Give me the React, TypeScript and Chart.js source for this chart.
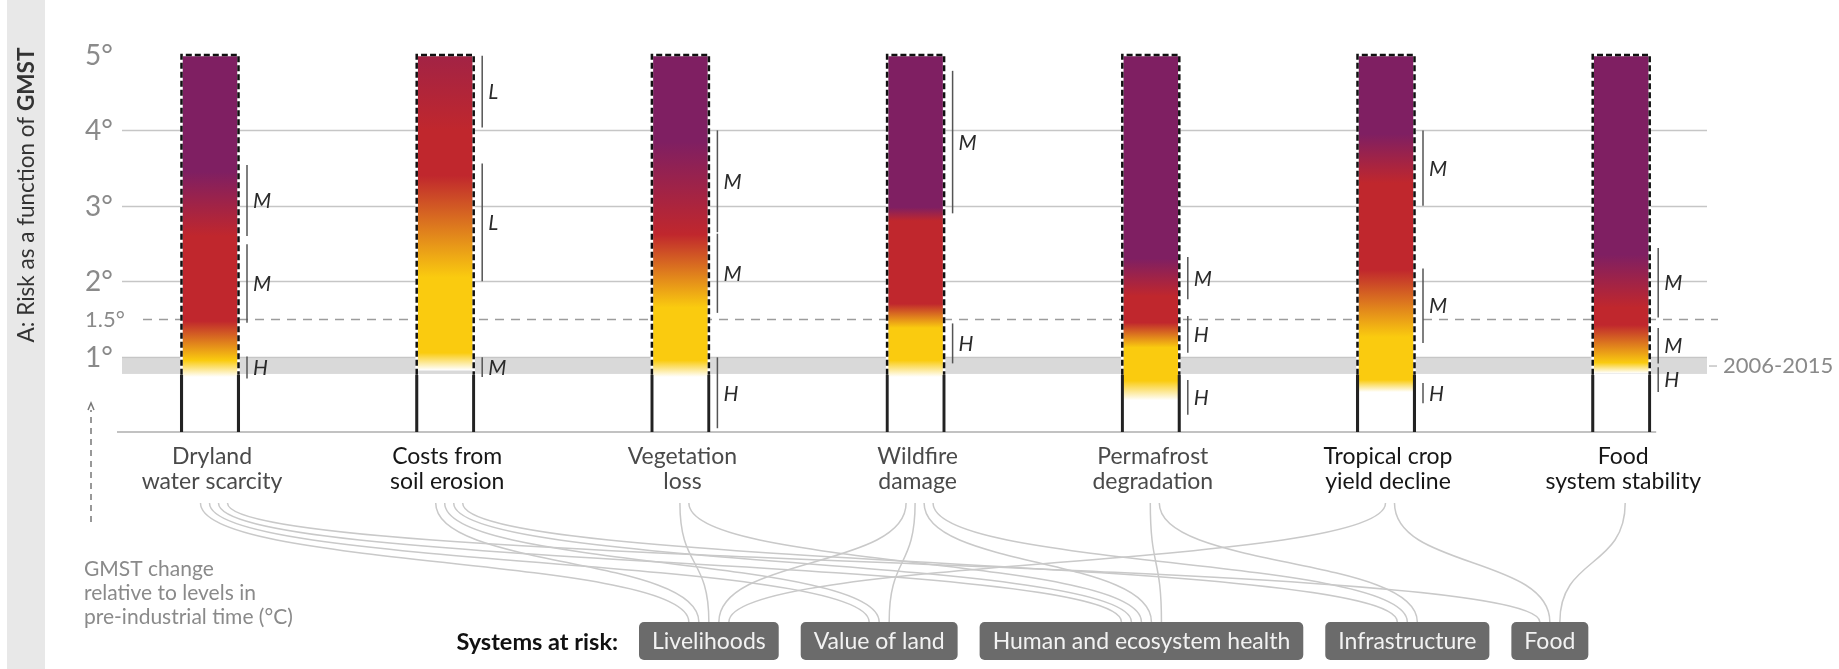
import React, { useEffect, useRef } from "react";
import { Chart, registerables } from "chart.js";

Chart.register(...registerables);

const W = 1839;
const H = 669;
const FONT = "Lato, 'Noto Sans', sans-serif";

// ---------------- data ----------------
const categories: string[][] = [
  ["Dryland", "water scarcity"],
  ["Costs from", "soil erosion"],
  ["Vegetation", "loss"],
  ["Wildfire", "damage"],
  ["Permafrost", "degradation"],
  ["Tropical crop", "yield decline"],
  ["Food", "system stability"],
];
const categoryStrong = [false, true, false, false, false, true, true];

const riskTop = [5, 5, 5, 5, 5, 5, 5];
const riskBottom = [0.73, 0.82, 0.73, 0.73, 0.42, 0.53, 0.78];
const outlineBottom = [0.76, 0.76, 0.76, 0.76, 0.76, 0.76, 0.76];

const yTickValues = [5, 4, 3, 2, 1.5, 1];
const yTickLabels = ["5°", "4°", "3°", "2°", "1.5°", "1°"];
const solidGridValues = [4, 3, 2, 1];
const dashedGridValue = 1.5;
const recentPeriod = [0.77, 0.98];
const recentPeriodLabel = "2006-2015";

// risk transitions: [GMST °C, level]  U undetectable, M moderate, H high, V very high
const transitionsDryland: [number, string][] = [[0.73, "U"], [0.95, "M"], [1.47, "H"], [2.6, "H"], [3.45, "V"], [5, "V"]];
const transitionsErosion: [number, string][] = [[0.82, "U"], [1.05, "M"], [2.05, "M"], [3.4, "H"], [4.0, "H"], [6.2, "V"]];
const transitionsVegetation: [number, string][] = [[0.73, "U"], [0.95, "M"], [1.65, "M"], [2.62, "H"], [3.85, "V"], [5, "V"]];
const transitionsWildfire: [number, string][] = [[0.73, "U"], [0.95, "M"], [1.38, "M"], [1.7, "H"], [2.8, "H"], [2.98, "V"], [5, "V"]];
const transitionsPermafrost: [number, string][] = [[0.42, "U"], [0.68, "M"], [1.12, "M"], [1.45, "H"], [1.8, "H"], [2.3, "V"], [5, "V"]];
const transitionsTropical: [number, string][] = [[0.53, "U"], [0.69, "M"], [1.26, "M"], [2.15, "H"], [3.3, "H"], [3.95, "V"], [5, "V"]];
const transitionsFood: [number, string][] = [[0.78, "U"], [0.92, "M"], [1.42, "H"], [1.65, "H"], [2.35, "V"], [5, "V"]];
const riskTransitions = [
  transitionsDryland, transitionsErosion, transitionsVegetation, transitionsWildfire,
  transitionsPermafrost, transitionsTropical, transitionsFood,
];

// confidence brackets: [from, to, level]
const confDryland: [number, number, string][] = [[2.6, 3.54, "M"], [1.45, 2.49, "M"], [0.71, 1.0, "H"]];
const confErosion: [number, number, string][] = [[4.04, 4.99, "L"], [2.0, 3.56, "L"], [0.73, 0.99, "M"]];
const confVegetation: [number, number, string][] = [[2.65, 4.0, "M"], [1.58, 2.63, "M"], [0.05, 0.99, "H"]];
const confWildfire: [number, number, string][] = [[2.9, 4.79, "M"], [0.91, 1.44, "H"]];
const confPermafrost: [number, number, string][] = [[1.76, 2.32, "M"], [1.05, 1.54, "H"], [0.23, 0.69, "H"]];
const confTropical: [number, number, string][] = [[3.0, 4.0, "M"], [1.18, 2.17, "M"], [0.38, 0.65, "H"]];
const confFood: [number, number, string][] = [[1.52, 2.44, "M"], [0.91, 1.38, "M"], [0.53, 0.86, "H"]];
const confidence = [confDryland, confErosion, confVegetation, confWildfire, confPermafrost, confTropical, confFood];

const systems = ["Livelihoods", "Value of land", "Human and ecosystem health", "Infrastructure", "Food"];
// [category index, system index]
const links: [number, number][] = [
  [0, 0], [0, 1], [0, 2], [0, 4],
  [1, 0], [1, 1], [1, 2], [1, 3],
  [2, 0], [2, 2],
  [3, 0], [3, 1], [3, 2], [3, 3],
  [4, 2], [4, 3],
  [5, 0], [5, 4],
  [6, 4],
];

// ---------------- styles ----------------
const LEVEL_RGB: Record<string, number[]> = {
  U: [255, 255, 255],
  M: [250, 203, 15],
  H: [192, 39, 45],
  V: [127, 31, 98],
};

function colorAt(stops: [number, string][], v: number): string {
  let c = LEVEL_RGB[stops[0][1]];
  if (v > stops[0][0]) {
    c = LEVEL_RGB[stops[stops.length - 1][1]];
    for (let k = 1; k < stops.length; k++) {
      if (v <= stops[k][0]) {
        const [v0, l0] = stops[k - 1];
        const [v1, l1] = stops[k];
        const t = v1 === v0 ? 1 : (v - v0) / (v1 - v0);
        const a = LEVEL_RGB[l0], b = LEVEL_RGB[l1];
        c = a.map((q, idx) => q + (b[idx] - q) * t);
        break;
      }
    }
  }
  return `rgb(${Math.round(c[0])},${Math.round(c[1])},${Math.round(c[2])})`;
}

const decorPlugin = {
  id: "decor",
  beforeDatasetsDraw(chart: any) {
    const { ctx, chartArea: a, scales } = chart;
    const x = scales.x, y = scales.y;
    ctx.save();

    // left side band + title
    ctx.fillStyle = "#e8e8e8";
    ctx.fillRect(7, 0, 38, H);
    ctx.save();
    ctx.translate(27, 195);
    ctx.rotate(-Math.PI / 2);
    ctx.textBaseline = "middle";
    ctx.fillStyle = "#333";
    const t1 = "A: Risk as a function of ";
    const t2 = "GMST";
    const fs = 22.5;
    ctx.font = `${fs}px ${FONT}`;
    const w1 = ctx.measureText(t1).width;
    ctx.font = `bold ${fs}px ${FONT}`;
    const w2 = ctx.measureText(t2).width;
    ctx.font = `${fs}px ${FONT}`;
    ctx.textAlign = "left";
    ctx.fillText(t1, -(w1 + w2) / 2, 0);
    ctx.font = `bold ${fs}px ${FONT}`;
    ctx.fillText(t2, -(w1 + w2) / 2 + w1, 0);
    ctx.restore();

    // recent period band
    const bTop = y.getPixelForValue(recentPeriod[1]);
    const bBot = y.getPixelForValue(recentPeriod[0]);
    ctx.fillStyle = "#d9d9d9";
    ctx.fillRect(a.left, bTop, a.right - a.left, bBot - bTop);
    ctx.strokeStyle = "#c4c4c4";
    ctx.lineWidth = 1.5;
    ctx.beginPath();
    ctx.moveTo(a.right + 2, (bTop + bBot) / 2);
    ctx.lineTo(a.right + 10, (bTop + bBot) / 2);
    ctx.stroke();
    ctx.fillStyle = "#8a8a8a";
    ctx.font = `22px ${FONT}`;
    ctx.textAlign = "left";
    ctx.textBaseline = "middle";
    ctx.fillText(recentPeriodLabel, a.right + 16, (bTop + bBot) / 2);

    // grid lines
    ctx.strokeStyle = "#c6c6c6";
    ctx.lineWidth = 1.5;
    solidGridValues.forEach((v) => {
      const py = Math.round(y.getPixelForValue(v)) + 0.5;
      ctx.beginPath();
      ctx.moveTo(a.left, py);
      ctx.lineTo(a.right, py);
      ctx.stroke();
    });
    ctx.strokeStyle = "#9c9c9c";
    ctx.setLineDash([9, 7]);
    const dy = Math.round(y.getPixelForValue(dashedGridValue)) + 0.5;
    ctx.beginPath();
    ctx.moveTo(a.left + 21, dy);
    ctx.lineTo(a.right + 11, dy);
    ctx.stroke();
    ctx.setLineDash([]);

    // baseline
    const by = y.getPixelForValue(0);
    ctx.strokeStyle = "#c2c2c2";
    ctx.lineWidth = 2;
    ctx.beginPath();
    ctx.moveTo(a.left - 5, by);
    ctx.lineTo(x.getPixelForValue(categories.length - 1) + 35, by);
    ctx.stroke();

    // y tick labels
    ctx.fillStyle = "#8a8a8a";
    ctx.textAlign = "left";
    ctx.textBaseline = "middle";
    yTickValues.forEach((v, k) => {
      ctx.font = Number.isInteger(v) ? `28px ${FONT}` : `22px ${FONT}`;
      ctx.fillText(yTickLabels[k], a.left - 37, y.getPixelForValue(v) + 1);
    });

    // category labels
    ctx.textAlign = "center";
    ctx.textBaseline = "middle";
    ctx.font = `23px ${FONT}`;
    categories.forEach((lines, i) => {
      const cx = x.getPixelForValue(i) + 2;
      ctx.fillStyle = categoryStrong[i] ? "#161616" : "#4a4a4a";
      lines.forEach((ln, j) => ctx.fillText(ln, cx, by + 25 + j * 25));
    });

    // GMST note + arrow
    ctx.fillStyle = "#8a8a8a";
    ctx.textAlign = "left";
    ctx.font = `21px ${FONT}`;
    ["GMST change", "relative to levels in", "pre-industrial time (°C)"].forEach((s, j) =>
      ctx.fillText(s, 84, 569 + j * 24)
    );
    ctx.strokeStyle = "#777";
    ctx.lineWidth = 1.5;
    ctx.setLineDash([6, 5]);
    ctx.beginPath();
    ctx.moveTo(91, 522);
    ctx.lineTo(91, 410);
    ctx.stroke();
    ctx.setLineDash([]);
    ctx.beginPath();
    ctx.moveTo(88, 410);
    ctx.lineTo(91, 403);
    ctx.lineTo(94, 410);
    ctx.stroke();

    // systems at risk boxes
    const boxTop = 622, boxH = 38, pad = 13, gap = 22;
    ctx.font = `bold 23.5px ${FONT}`;
    ctx.fillStyle = "#111";
    ctx.textAlign = "right";
    ctx.fillText("Systems at risk:", 618, boxTop + boxH / 2 + 1);
    ctx.font = `23px ${FONT}`;
    let bx = 639;
    const centers: number[] = [];
    systems.forEach((s) => {
      const tw = ctx.measureText(s).width;
      const bw = tw + pad * 2;
      ctx.fillStyle = "#6b6b6b";
      ctx.beginPath();
      (ctx as any).roundRect(bx, boxTop, bw, boxH, 5);
      ctx.fill();
      ctx.fillStyle = "#f2f2f2";
      ctx.textAlign = "center";
      ctx.fillText(s, bx + bw / 2, boxTop + boxH / 2 + 1);
      centers.push(bx + bw / 2);
      bx += bw + gap;
    });

    // links
    const sy = by + 71, ey = boxTop;
    ctx.strokeStyle = "#c9c9c9";
    ctx.lineWidth = 1.5;
    links.forEach(([ci, si]) => {
      const fromList = links.filter((l) => l[0] === ci);
      const toList = links.filter((l) => l[1] === si);
      const j = fromList.findIndex((l) => l[1] === si);
      const m = toList.findIndex((l) => l[0] === ci);
      const sx = x.getPixelForValue(ci) + 4 + (j - (fromList.length - 1) / 2) * 9;
      const ex = centers[si] + (m - (toList.length - 1) / 2) * 10;
      const k = (ey - sy) * 0.55;
      ctx.beginPath();
      ctx.moveTo(sx, sy);
      ctx.bezierCurveTo(sx, sy + k, ex, ey - k, ex, ey);
      ctx.stroke();
    });

    ctx.restore();
  },
  afterDatasetsDraw(chart: any) {
    const { ctx, scales } = chart;
    const y = scales.y;
    const meta = chart.getDatasetMeta(0);
    ctx.save();
    meta.data.forEach((el: any, i: number) => {
      const xl = el.x - el.width / 2;
      const xr = el.x + el.width / 2;
      const yt = y.getPixelForValue(riskTop[i]);
      const yb = y.getPixelForValue(outlineBottom[i]);
      ctx.lineWidth = 2.5;
      ctx.beginPath();
      ctx.moveTo(xl, yb);
      ctx.lineTo(xl, yt);
      ctx.lineTo(xr, yt);
      ctx.lineTo(xr, yb);
      ctx.strokeStyle = "#ffffff";
      ctx.stroke();
      ctx.setLineDash([6, 3]);
      ctx.strokeStyle = "#111";
      ctx.stroke();
      ctx.setLineDash([]);

      // confidence brackets
      const lx = xr + 8.5;
      confidence[i].forEach(([lo, hi, lvl]) => {
        const p0 = y.getPixelForValue(lo), p1 = y.getPixelForValue(hi);
        ctx.strokeStyle = "#555";
        ctx.lineWidth = 1.5;
        ctx.beginPath();
        ctx.moveTo(lx, p0);
        ctx.lineTo(lx, p1);
        ctx.stroke();
        ctx.fillStyle = "#2a2a2a";
        ctx.font = `italic 21px ${FONT}`;
        ctx.textAlign = "left";
        ctx.textBaseline = "middle";
        ctx.fillText(lvl, lx + 6, (p0 + p1) / 2 + 1);
      });
    });
    ctx.restore();
  },
};

export default function App() {
  const ref = useRef<HTMLCanvasElement>(null);
  useEffect(() => {
    const canvas = ref.current;
    if (!canvas) return;
    const centerStart = 210, step = 235.2, left = 122, right = 1707;
    const chart = new Chart(canvas, {
      type: "bar",
      data: {
        datasets: [
          {
            label: "risk",
            data: riskBottom.map((b, i) => ({ x: i, y: [b, riskTop[i]] })) as any,
            barThickness: 57,
            grouped: false,
            borderWidth: 0,
            order: 2,
            backgroundColor: (c: any) => {
              const ch = c.chart;
              const ys = ch.scales && ch.scales.y;
              const i = c.dataIndex;
              if (!ys || i === undefined) return "#7f1f62";
              const lo = riskBottom[i], hi = riskTop[i];
              const p0 = ys.getPixelForValue(lo), p1 = ys.getPixelForValue(hi);
              if (!isFinite(p0) || !isFinite(p1) || p0 === p1) return "#7f1f62";
              const stops = riskTransitions[i];
              const g = ch.ctx.createLinearGradient(0, p0, 0, p1);
              const vals = [lo, ...stops.map((s) => s[0]).filter((v) => v > lo && v < hi), hi];
              vals.forEach((v) => g.addColorStop((v - lo) / (hi - lo), colorAt(stops, v)));
              return g;
            },
          } as any,
          {
            label: "stem",
            data: outlineBottom.map((b, i) => ({ x: i, y: [0, b] })) as any,
            barThickness: 59.5,
            grouped: false,
            backgroundColor: "rgba(0,0,0,0)",
            borderColor: "#222",
            borderWidth: { left: 2.5, right: 2.5, top: 0, bottom: 0 },
            borderSkipped: false,
            order: 1,
          } as any,
        ],
      },
      options: {
        animation: false,
        responsive: false,
        maintainAspectRatio: false,
        devicePixelRatio: 1,
        layout: { padding: { left: left, right: W - right, top: 55, bottom: H - 432 } },
        plugins: { legend: { display: false }, tooltip: { enabled: false } },
        scales: {
          x: {
            type: "linear",
            display: false,
            offset: false,
            min: (left - centerStart) / step,
            max: (right - centerStart) / step,
          },
          y: { type: "linear", display: false, min: 0, max: 5 },
        },
      },
      plugins: [decorPlugin],
    });
    return () => chart.destroy();
  }, []);
  return (
    <div style={{ position: "absolute", left: 0, top: 0, width: W, height: H, background: "#fff" }}>
      <canvas ref={ref} width={W} height={H} style={{ display: "block", width: W, height: H }} />
    </div>
  );
}
